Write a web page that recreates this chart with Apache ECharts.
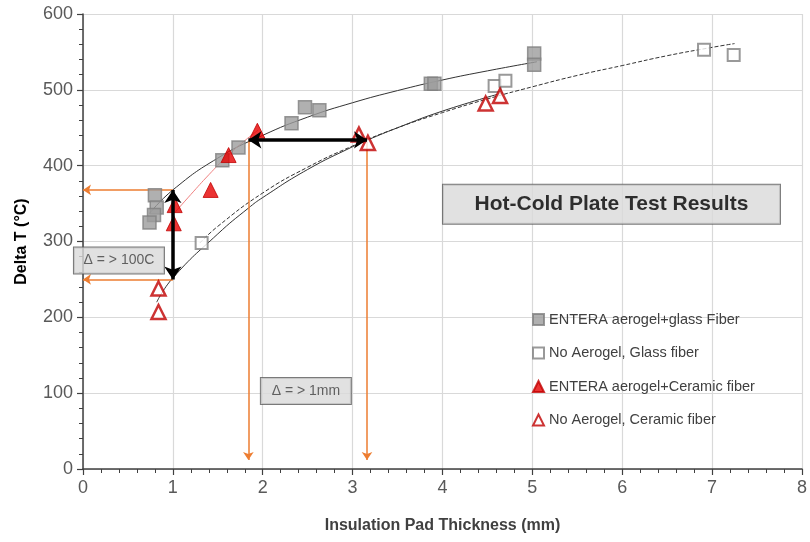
<!DOCTYPE html>
<html>
<head>
<meta charset="utf-8">
<script src="https://cdn.jsdelivr.net/npm/echarts@6/dist/echarts.min.js"></script>
<style>html,body{margin:0;padding:0;background:#fff}#c{width:810px;height:542px}</style>
</head>
<body>
<div id="c"></div>
<script>
// ---- data ----
const seriesNames = ['ENTERA aerogel+glass Fiber', 'No Aerogel, Glass fiber', 'ENTERA aerogel+Ceramic fiber', 'No Aerogel, Ceramic fiber'];
const enteraGlass = [[0.80,361],[0.82,345],[0.79,335],[0.74,325],[1.55,407],[1.73,424],[2.32,456],[2.47,477],[2.63,473],[3.87,508],[3.91,508],[5.02,548],[5.02,533]];
const noAeroGlass = [[1.32,298],[4.58,505],[4.70,512],[6.91,553],[7.24,546]];
const enteraCeramic = [[1.02,348],[1.01,324],[1.42,368],[1.62,414],[1.94,446]];
const noAeroCeramic = [[0.84,238],[0.84,207],[3.07,441],[3.17,430],[4.48,482],[4.64,492]];
// trend curves
const trendEnteraGlass = [[0.74,337],[1.0,368],[1.5,410],[2.0,440],[2.5,464],[3.0,483],[3.5,499],[4.0,513],[4.5,525],[5.05,537]];
const trendEnteraCeramic = [[1.02,338],[1.2,362],[1.4,388],[1.6,412],[1.8,433],[1.95,447]];
const trendNoAeroCeramic = [[0.82,220],[1.0,252],[1.5,310],[1.84,344],[2.0,358],[2.5,395],[3.0,425],[3.17,434],[3.5,450],[4.0,472],[4.67,496]];
const trendNoAeroGlass = [[1.3,298],[1.5,320],[2.0,364],[2.5,398],[3.0,426],[3.5,450],[4.0,470],[4.5,488],[5.0,504],[5.5,519],[6.0,532],[6.5,545],[7.0,556],[7.25,561]];
// annotation arrows
const orangeArrows = [[[1.0,368],[0,368]],[[1.0,250],[0,250]],[[1.84,433],[1.84,12]],[[3.16,431],[3.16,12]]];
const blackArrows = [[[1.0,250],[1.0,368]],[[1.84,434],[3.16,434]]];
// annotation boxes: [x, y, text]
const boxes = [[0.40,275,'Δ = > 100C'],[2.48,103,'Δ = > 1mm']];
const titleBox = [[5.88,349,'Hot-Cold Plate Test Results']];
const xTicks = [0,1,2,3,4,5,6,7,8];
const yTicks = [0,100,200,300,400,500,600];

const FONT = 'Liberation Sans';
const chart = echarts.init(document.getElementById('c'));

function trend(data, color, type) {
  return {type:'line', data:data, smooth:true, showSymbol:false, symbol:'none', silent:true,
    lineStyle:{color:color, width:1, type:type||'solid'}, z:2, animation:false};
}
function boxSeries(data, opts) {
  return {type:'scatter', silent:true, symbolSize:0, z:6, animation:false,
    data:data.map(d=>({value:[d[0],d[1]], name:d[2]})),
    label:Object.assign({show:true, position:'inside', formatter:p=>p.name,
      backgroundColor:'#d9d9d9', borderColor:'#595959', borderWidth:1,
      align:'center', verticalAlign:'middle', fontFamily:FONT}, opts)};
}

chart.setOption({
  animation:false,
  backgroundColor:'#fff',
  grid:{left:83, right:4, top:14, bottom:73},
  xAxis:{type:'value', min:0, max:8, interval:1,
    axisLine:{show:true, onZero:false, lineStyle:{color:'#404040', width:1.5}},
    axisTick:{show:true, length:6, lineStyle:{color:'#404040', width:1.2}},
    minorTick:{show:true, splitNumber:5, length:4, lineStyle:{color:'#404040', width:1}},
    splitLine:{show:true, lineStyle:{color:'#d9d9d9', width:1.2}},
    axisLabel:{color:'#595959', fontSize:18, fontFamily:FONT, margin:10,
      formatter:v=>xTicks.includes(v)?String(v):''},
    name:'Insulation Pad Thickness (mm)', nameLocation:'middle', nameGap:49,
    nameTextStyle:{color:'#404040', fontSize:16, fontWeight:'bold', fontFamily:FONT}},
  yAxis:{type:'value', min:0, max:600, interval:100,
    axisLine:{show:true, onZero:false, lineStyle:{color:'#404040', width:1.5}},
    axisTick:{show:true, length:6, lineStyle:{color:'#404040', width:1.2}},
    minorTick:{show:true, splitNumber:5, length:4, lineStyle:{color:'#404040', width:1}},
    splitLine:{show:true, lineStyle:{color:'#d9d9d9', width:1.2}},
    axisLabel:{color:'#595959', fontSize:18, fontFamily:FONT, margin:10,
      formatter:v=>yTicks.includes(v)?String(v):''},
    name:'Delta T (°C)', nameLocation:'middle', nameGap:53,
    nameTextStyle:{color:'#000', fontSize:16, fontWeight:'bold', fontFamily:FONT}},
  legend:{data:seriesNames, orient:'vertical', left:527, top:307, itemGap:18.5,
    itemWidth:11, itemHeight:11,
    textStyle:{color:'#404040', fontSize:14.5, fontFamily:FONT}},
  series:[
    trend(trendEnteraGlass,'#333'),
    trend(trendEnteraCeramic,'#f08080'),
    trend(trendNoAeroCeramic,'#333'),
    trend(trendNoAeroGlass,'#333','dashed'),
    {name:seriesNames[0], type:'scatter', data:enteraGlass, symbol:'rect', symbolSize:13, z:4,
      itemStyle:{color:'#9c9c9c', borderColor:'#808080', borderWidth:1.5}},
    {name:seriesNames[1], type:'scatter', data:noAeroGlass, symbol:'rect', symbolSize:12, z:4,
      itemStyle:{color:'#fff', borderColor:'#808080', borderWidth:2}},
    {name:seriesNames[2], type:'scatter', data:enteraCeramic, symbol:'triangle', symbolSize:15, z:5,
      itemStyle:{color:'#e60000', borderColor:'#c00000', borderWidth:1}},
    {name:seriesNames[3], type:'scatter', data:noAeroCeramic, symbol:'triangle', symbolSize:14, z:5,
      itemStyle:{color:'#fff', borderColor:'#c00000', borderWidth:2.5}},
    {type:'lines', coordinateSystem:'cartesian2d', silent:true, z:3, animation:false,
      data:orangeArrows.map(c=>({coords:c})),
      symbol:['none','arrow'], symbolSize:8,
      lineStyle:{color:'#ed7d31', width:1.5, opacity:1}},
    {type:'lines', coordinateSystem:'cartesian2d', silent:true, z:6, animation:false,
      data:blackArrows.map(c=>({coords:c})),
      symbol:['arrow','arrow'], symbolSize:13,
      lineStyle:{color:'#000', width:3.5, opacity:1}},
    boxSeries(boxes, {color:'#404040', fontSize:14, width:90, height:26, lineHeight:26, padding:0}),
    boxSeries(titleBox, {color:'#000', fontSize:21, fontWeight:'bold', width:337, height:39, lineHeight:39, padding:0})
  ]
});
</script>
</body>
</html>
